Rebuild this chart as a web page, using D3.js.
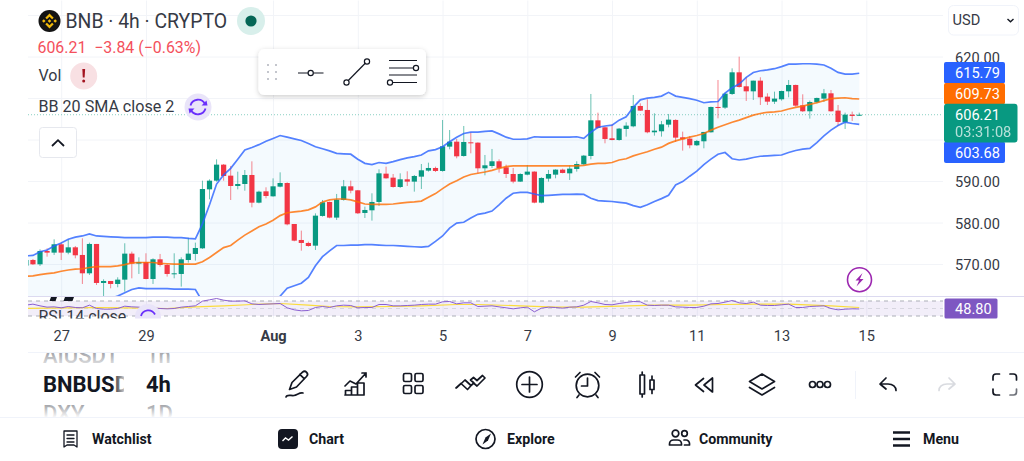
<!DOCTYPE html>
<html>
<head>
<meta charset="utf-8">
<script src="https://cdn.jsdelivr.net/npm/d3@7"></script>
<style>
  html, body { margin: 0; padding: 0; background: #fff; overflow: hidden; }
  svg { display: block; font-family: Roboto, sans-serif; }
  text { fill: #363a45; }
</style>
</head>
<body>
<div class="chart"></div>
<script>
const w = 1024;
const h = 461;

// 4h candles, first one is Jul 26 04:00
const opens = [569.85,571.21,570.17,573.38,572.98,574.99,572.98,574.26,572.42,568.00,575.07,565.67,566.15,565.43,566.47,572.74,570.33,570.73,566.63,571.37,570.01,567.84,567.84,571.21,572.66,574.02,588.23,590.32,594.18,591.53,589.04,589.52,591.69,585.02,587.75,586.55,588.88,589.76,579.88,576.03,575.31,574.66,
581.82,585.19,581.42,585.67,588.96,588.00,582.54,583.18,585.19,592.01,591.05,588.80,590.65,590.09,591.29,592.74,593.38,592.66,598.52,599.72,596.27,599.56,599.48,593.30,593.86,594.99,593.54,591.93,590.09,591.77,592.50,585.03,590.81,591.77,592.98,592.09,593.14,594.26,596.27,604.86,603.18,600.53,600.12,
602.78,603.42,608.32,607.36,601.98,602.22,603.82,604.95,600.77,600.45,598.85,599.81,601.98,608.08,607.92,611.21,616.43,613.06,611.85,614.42,610.57,609.36,609.93,611.85,613.38,608.48,607.04,609.20,610.09,611.37,607.20,604.39,606.23,605.99];
const closes = [571.21,570.17,573.38,572.98,574.99,572.98,574.26,572.34,568.00,575.07,565.67,566.15,565.43,566.47,572.74,570.33,570.73,566.63,571.37,570.01,567.84,568.00,571.37,572.74,574.10,588.31,590.32,594.18,591.45,589.04,589.52,591.69,585.02,587.67,586.63,588.96,589.76,579.80,575.87,575.31,574.58,581.89,
585.11,581.42,585.75,588.96,587.92,582.46,583.26,585.19,592.09,590.89,588.80,590.65,590.09,591.45,592.82,593.38,592.66,598.60,599.72,596.19,599.64,599.32,593.30,594.02,594.99,593.38,591.93,590.09,591.93,592.50,585.03,590.97,591.93,592.98,592.18,593.22,594.34,596.35,604.86,603.02,600.37,600.12,602.86,
603.58,608.32,607.20,601.98,602.38,603.90,605.03,600.69,600.29,598.85,599.89,602.06,608.08,607.84,611.29,616.43,612.90,611.85,614.42,610.41,609.36,610.09,611.93,613.38,608.40,607.04,609.28,610.25,611.37,607.04,604.47,606.23,605.91,606.21];
const highs = [571.61,571.45,573.78,574.02,576.19,575.39,576.19,574.58,576.43,575.39,575.07,566.55,566.15,567.04,575.23,573.22,571.85,572.82,571.61,572.66,570.25,572.82,571.85,576.59,575.39,590.32,590.64,595.46,594.34,593.86,592.49,592.89,594.98,587.91,588.72,590.88,592.33,589.92,579.88,578.28,575.63,582.45,
585.67,585.27,587.12,590.49,590.33,588.08,584.07,587.28,593.06,593.70,591.93,592.09,592.58,591.69,594.34,594.66,593.70,604.94,602.53,600.37,603.50,601.97,599.56,596.51,597.96,595.47,594.18,593.38,592.09,594.10,592.58,591.13,592.90,593.06,593.22,594.02,594.99,596.51,611.21,606.71,603.34,603.98,603.02,
604.39,610.97,608.96,609.93,606.55,604.71,606.39,605.11,602.14,601.09,600.13,602.06,608.16,614.58,611.53,617.39,620.20,615.23,614.42,615.23,611.37,611.77,612.01,614.58,613.46,611.13,609.61,610.33,612.42,612.17,608.56,606.71,606.96,606.71];
const lows = [569.61,570.01,569.77,572.01,572.42,571.21,572.58,571.61,565.43,567.60,565.19,562.38,564.39,564.63,563.58,566.79,567.84,566.55,565.43,569.61,567.20,566.79,564.79,570.57,571.05,573.86,585.83,590.08,590.32,585.66,588.23,587.91,583.90,584.86,586.07,586.47,588.72,579.56,575.71,573.46,574.42,573.62,
581.66,581.25,580.85,585.51,587.28,582.30,581.33,580.69,584.23,590.81,588.64,588.56,589.04,587.68,588.32,592.50,592.42,592.50,597.88,595.71,596.11,596.91,592.09,591.61,593.38,592.26,590.97,589.69,590.01,591.61,584.87,584.87,590.09,590.89,592.09,590.49,592.50,594.02,595.47,602.86,599.32,600.04,599.96,
600.93,603.18,607.12,601.74,601.17,600.93,603.18,599.65,597.56,598.12,598.68,598.12,601.90,605.35,607.60,610.97,612.74,609.53,609.77,608.56,608.56,608.80,609.61,610.41,608.16,606.88,605.27,608.96,609.28,606.96,603.50,602.78,604.71,605.91];

const bbUpper = [572.2,572.3,573.2,573.6,574.6,575.3,576.2,576.7,577.0,577.5,577.0,576.9,576.8,576.7,576.6,576.6,576.6,576.6,576.7,576.7,576.7,576.6,576.6,576.4,576.3,579.9,584.5,589.5,591.7,593.3,595.5,597.7,598.3,599.0,599.8,600.5,601.2,600.8,600.4,600.0,599.3,598.5,
598.0,597.5,596.9,596.8,596.7,595.5,594.5,594.2,594.7,594.5,594.9,595.4,595.8,596.1,596.5,597.5,597.8,598.5,599.7,600.8,601.7,602.0,602.0,602.2,602.3,601.6,600.8,600.3,600.3,600.4,600.9,600.8,600.8,600.8,600.8,600.8,600.9,600.5,602.0,603.2,603.5,603.7,604.9,
605.7,608.0,609.8,610.2,610.4,610.7,611.6,610.7,610.4,610.1,609.7,609.1,609.3,609.4,611.4,612.7,613.6,615.2,616.4,616.8,617.0,617.3,617.8,618.4,618.4,618.5,618.5,618.4,618.2,617.4,616.4,616.0,616.0,616.2];
const bbBasis = [567.3,567.4,567.7,567.9,568.1,568.5,568.8,569.0,569.1,569.4,569.6,569.6,569.6,569.8,570.1,570.5,570.6,570.6,570.6,570.4,570.3,570.2,570.2,570.2,570.2,570.8,571.8,573.0,574.2,574.7,576.0,577.2,578.2,579.2,579.9,580.8,581.9,582.6,582.8,583.0,583.3,584.0,
585.2,585.7,585.9,585.9,585.7,585.2,584.7,584.6,584.6,584.6,584.7,584.9,585.1,585.2,585.4,586.3,587.2,588.4,589.5,590.3,591.2,591.8,592.1,592.4,592.8,593.3,593.7,593.9,593.9,593.9,593.9,593.9,593.9,593.9,593.9,593.9,593.9,594.0,594.3,594.5,594.5,594.7,595.3,
595.6,596.3,596.8,597.3,597.9,598.4,599.3,599.9,600.4,600.8,601.2,601.7,602.5,603.2,603.8,604.4,604.9,605.5,606.1,606.5,606.8,606.9,607.1,607.6,608.0,608.3,608.7,609.1,609.6,610.1,610.2,610.3,610.1,610.0];
const bbLower = [559.2,559.2,559.3,559.5,559.6,559.8,560.0,560.1,560.3,560.4,560.8,561.4,562.0,562.5,563.3,564.1,564.5,564.3,564.3,564.3,564.3,564.2,564.2,564.2,564.1,561.2,555.9,550.7,547.1,544.7,544.3,545.5,547.9,550.3,553.5,558.0,562.5,564.4,565.0,565.6,567.0,569.8,
572.0,573.4,574.7,574.7,574.8,574.8,574.9,574.9,574.8,574.7,574.7,574.6,574.5,574.4,574.3,574.5,575.7,577.0,578.9,580.1,580.3,581.3,582.2,582.5,583.0,584.5,586.1,587.3,587.5,587.5,587.1,586.7,586.8,586.9,587.0,587.0,587.1,587.0,586.1,585.5,585.4,585.3,585.1,
584.9,584.3,583.9,584.5,585.3,586.0,586.8,589.3,590.1,591.4,592.6,594.2,595.5,596.7,597.1,595.6,595.3,595.5,595.9,596.2,596.3,596.4,596.5,597.1,597.6,597.9,598.1,599.5,601.1,602.5,603.6,604.4,604.1,603.9];

const rsi = [58.9,61.6,57.1,53.6,54.4,51.8,55.3,52.7,51.8,58.9,50,48.2,48.2,50,56.2,54.4,53.6,50,51.8,50,49.1,50,53.6,55.3,57.1,69.6,73.1,76.7,72.2,69.6,69.6,70.4,62.4,60.7,61.6,62.4,63.3,51.8,46.4,43.8,44.7,52.7,
55.3,52.7,57.1,58.9,58,51.8,52.7,52.7,60.7,60.7,57.1,57.1,58,58.9,60.7,61.6,61.6,67.8,68.7,62.4,65.1,65.1,55.3,56.2,57.1,54.4,51.8,49.1,51.8,53.6,41.1,50.9,53.6,52.7,50.9,53.6,54.4,58.9,68.7,65.1,60.7,59.8,63.3,
66,68.7,67.8,58.9,58,58.9,58.9,54.4,53.6,52.7,52.7,56.2,62.4,63.3,66.9,71.3,65.1,63.3,66.9,58.9,58,58,59.8,61.6,52.7,52.7,55.3,56.2,57.1,50,46.4,48.2,49.1,48.8];
const rsiMaIndex = [0,3,6,10,14,20,24,28,32,36,40,43,47,52,56,61,64,70,75,79,84,89,94,99,103,108,114,118];
const rsiMa = [50,50.9,51.8,52.7,51.8,50,54.4,57.1,60.7,63.3,58.9,55.3,54.4,55.3,57.1,60.7,60.7,57.1,53.6,53.6,56.2,58.9,58.9,60.7,61.6,61.6,57.1,52.7];

const gridTicks = [570,580,590,600,610,620,630];
const priceLabels = [570,580,590,620];
const dayTicks = ["2024-07-27","2024-07-29","2024-08-01","2024-08-03","2024-08-05","2024-08-07","2024-08-09","2024-08-11","2024-08-13","2024-08-15"];
const dayLabels = ["27","29","Aug","3","5","7","9","11","13","15"];
const priceTags = [
  {label: "615.79", color: "#2962ff"},
  {label: "609.73", color: "#ff6d00"},
  {label: "603.68", color: "#2962ff"}
];

const green = "#089981";
const red = "#f23645";

const svg = d3.select(".chart").append("svg")
  .attr("width", w)
  .attr("height", h);

const defs = svg.append("defs");
defs.append("clipPath").attr("id", "mainClip").append("rect")
  .attr("x", 28).attr("y", 0).attr("width", 915).attr("height", 296);
defs.append("clipPath").attr("id", "rsiClip").append("rect")
  .attr("x", 28).attr("y", 297).attr("width", 915).attr("height", 21.5);
defs.append("clipPath").attr("id", "paneClip").append("rect")
  .attr("x", 0).attr("y", 297).attr("width", w).attr("height", 21.5);
defs.append("clipPath").attr("id", "listClip").append("rect")
  .attr("x", 0).attr("y", 353).attr("width", 200).attr("height", 64);
defs.append("clipPath").attr("id", "symClip").append("rect")
  .attr("x", 0).attr("y", 353).attr("width", 124).attr("height", 64);
const shadow = defs.append("filter").attr("id", "shadow")
  .attr("x", "-10%").attr("y", "-20%").attr("width", "120%").attr("height", "150%");
shadow.append("feDropShadow").attr("dx", 0).attr("dy", 1.5).attr("stdDeviation", 2.5)
  .attr("flood-color", "#000").attr("flood-opacity", 0.2);
const fadeTop = defs.append("linearGradient").attr("id", "fadeTop").attr("x1", 0).attr("x2", 0).attr("y1", 0).attr("y2", 1);
fadeTop.append("stop").attr("offset", 0).attr("stop-color", "#fff").attr("stop-opacity", 0.45);
fadeTop.append("stop").attr("offset", 1).attr("stop-color", "#fff").attr("stop-opacity", 0.85);
const fadeBot = defs.append("linearGradient").attr("id", "fadeBot").attr("x1", 0).attr("x2", 0).attr("y1", 0).attr("y2", 1);
fadeBot.append("stop").attr("offset", 0).attr("stop-color", "#fff").attr("stop-opacity", 0.4);
fadeBot.append("stop").attr("offset", 1).attr("stop-color", "#fff").attr("stop-opacity", 0.95);
const fadeRight = defs.append("linearGradient").attr("id", "fadeRight");
fadeRight.append("stop").attr("offset", 0).attr("stop-color", "#fff").attr("stop-opacity", 0);
fadeRight.append("stop").attr("offset", 1).attr("stop-color", "#fff").attr("stop-opacity", 0.75);

const times = opens.map((d, i) => d3.utcHour.offset(new Date(Date.UTC(2024, 6, 26, 4)), i * 4));
const tickDates = dayTicks.map(d => new Date(d + "T00:00:00Z"));

const x = d3.scaleUtc()
  .domain([tickDates[0], tickDates[tickDates.length - 1]])
  .range([61.2, 866.3]);

const y = d3.scaleLinear()
  .domain([620, 570])
  .range([57.5, 265]);

const rsiY = d3.scaleLinear()
  .domain([70, 30])
  .range([301, 316]);

// grid + axis labels
const yAxis = d3.axisRight(y)
  .tickValues(gridTicks)
  .tickSizeInner(-915)
  .tickSizeOuter(0)
  .tickPadding(12)
  .tickFormat(d => priceLabels.includes(d) ? d.toFixed(2) : "");

const xAxis = d3.axisBottom(x)
  .tickValues(tickDates)
  .tickSizeInner(-318)
  .tickSizeOuter(0)
  .tickPadding(12.5)
  .tickFormat((d, i) => dayLabels[i]);

const gy = svg.append("g").attr("transform", "translate(943,0)").call(yAxis);
gy.select(".domain").remove();
gy.selectAll("line").attr("stroke", "#f2f4f8").attr("transform", "translate(0,-1)");
gy.selectAll("text").attr("font-size", 14.6).attr("font-family", "Roboto").style("fill", "#363a45");

const gx = svg.append("g").attr("transform", "translate(0,318.5)").call(xAxis);
gx.select(".domain").remove();
gx.selectAll("line").attr("stroke", "#f2f4f8");
gx.selectAll("text")
  .attr("font-size", 14.6)
  .attr("font-family", "Roboto")
  .attr("font-weight", (d, i) => dayLabels[i] === "Aug" ? 700 : 400)
  .style("fill", "#363a45");

// main pane
const main = svg.append("g").attr("clip-path", "url(#mainClip)");

const bandArea = d3.area()
  .x((d, i) => x(times[i]))
  .y0((d, i) => y(bbLower[i]))
  .y1(d => y(d));

main.append("path")
  .datum(bbUpper)
  .attr("d", bandArea)
  .attr("fill", "#2196f3")
  .attr("fill-opacity", 0.05);

// current price line
main.append("line")
  .attr("x1", 28).attr("x2", 943)
  .attr("y1", y(closes[closes.length - 1])).attr("y2", y(closes[closes.length - 1]))
  .attr("stroke", green)
  .attr("stroke-opacity", 0.6)
  .attr("stroke-width", 0.8)
  .attr("stroke-dasharray", "1,2");

const candles = main.selectAll(".candle")
  .data(opens)
  .enter().append("g")
  .attr("class", "candle");

candles.append("line")
  .attr("x1", (d, i) => x(times[i]))
  .attr("x2", (d, i) => x(times[i]))
  .attr("y1", (d, i) => y(highs[i]))
  .attr("y2", (d, i) => y(lows[i]))
  .attr("stroke", (d, i) => closes[i] >= d ? green : red)
  .attr("stroke-opacity", 0.8)
  .attr("stroke-width", 0.75);

candles.append("rect")
  .attr("x", (d, i) => x(times[i]) - 2.6)
  .attr("width", 5.2)
  .attr("y", (d, i) => y(Math.max(d, closes[i])))
  .attr("height", (d, i) => Math.max(1, Math.abs(y(d) - y(closes[i]))))
  .attr("fill", (d, i) => closes[i] >= d ? green : red);

const priceLine = d3.line()
  .x((d, i) => x(times[i]))
  .y(d => y(d));

[[bbUpper, "#2962ff"], [bbLower, "#2962ff"], [bbBasis, "#ff6d00"]].forEach(s => {
  main.append("path")
    .datum(s[0])
    .attr("d", priceLine)
    .attr("fill", "none")
    .attr("stroke", s[1])
    .attr("stroke-width", 1.7)
    .attr("stroke-opacity", 0.8);
});

// pane separator
svg.append("line")
  .attr("x1", 28).attr("x2", w).attr("y1", 296.5).attr("y2", 296.5)
  .attr("stroke", "#dcdaf0");

// rsi pane
const rsiPane = svg.append("g").attr("clip-path", "url(#rsiClip)");

rsiPane.append("rect")
  .attr("x", 28).attr("width", 915)
  .attr("y", rsiY(70)).attr("height", rsiY(30) - rsiY(70))
  .attr("fill", "#7e57c2").attr("fill-opacity", 0.1);

[[70, 0.9], [50, 0.35], [30, 0.9]].forEach(s => {
  rsiPane.append("line")
    .attr("x1", 28).attr("x2", 943)
    .attr("y1", rsiY(s[0])).attr("y2", rsiY(s[0]))
    .attr("stroke", "#a3a6af").attr("stroke-opacity", s[1])
    .attr("stroke-dasharray", "4,4");
});

rsiPane.append("path")
  .datum(rsiMa)
  .attr("d", d3.line().x((d, i) => x(times[rsiMaIndex[i]])).y(d => rsiY(d)))
  .attr("fill", "none")
  .attr("stroke", "#fbdc3c")
  .attr("stroke-width", 1.2);

rsiPane.append("path")
  .datum(rsi)
  .attr("d", d3.line().x((d, i) => x(times[i])).y(d => rsiY(d)))
  .attr("fill", "none")
  .attr("stroke", "#8a5fd0")
  .attr("stroke-width", 1);

// tv logo, cut by the pane
svg.append("path").attr("d", "M51 297h6l-1.5 4h-6z M65 297h9l-1.5 4h-9z").attr("fill", "#131722");

// price tags on the scale
const tagY = [73, 94, 152.5];
const tags = svg.selectAll(".tag")
  .data(priceTags)
  .enter().append("g")
  .attr("class", "tag");
tags.append("rect")
  .attr("x", 944).attr("width", 61)
  .attr("y", (d, i) => tagY[i] - 11).attr("height", 21.5)
  .attr("rx", 2)
  .attr("fill", d => d.color);
tags.append("text")
  .attr("x", 955).attr("y", (d, i) => tagY[i] + 5.2)
  .attr("font-size", 14.6)
  .style("fill", "#fff")
  .text(d => d.label);

svg.append("rect").attr("x", 944).attr("y", 103.7).attr("width", 73.5).attr("height", 38.8).attr("rx", 3).attr("fill", green);
svg.append("text").attr("x", 955).attr("y", 120).attr("font-size", 14.6).style("fill", "#fff").text("606.21");
svg.append("text").attr("x", 955).attr("y", 137).attr("font-size", 14.6).style("fill", "#fff").style("opacity", 0.7).text("03:31:08");

svg.append("rect").attr("x", 944.5).attr("y", 298.5).attr("width", 53).attr("height", 20).attr("rx", 1.5).attr("fill", "#7e57c2");
svg.append("text").attr("x", 955).attr("y", 314).attr("font-size", 14.6).style("fill", "#fff").text("48.80");

// legend
const logo = svg.append("g").attr("transform", "translate(49.5,21)");
logo.append("circle").attr("r", 11).attr("fill", "#131313");
logo.append("path").attr("d", "M0-7.5 4.2-3.3 2.6-1.7 0-4.3-2.6-1.7-4.2-3.3Z M-7.5 0-5.7-1.8-3.9 0-5.7 1.8Z M7.5 0 5.7-1.8 3.9 0 5.7 1.8Z M0-1.8 1.8 0 0 1.8-1.8 0Z M0 7.5 4.2 3.3 2.6 1.7 0 4.3-2.6 1.7-4.2 3.3Z").attr("fill", "#f0b90b");

svg.append("text").attr("x", 65.5).attr("y", 27.5).attr("font-size", 19.4).text("BNB · 4h · CRYPTO");
svg.append("circle").attr("cx", 251).attr("cy", 21).attr("r", 14).attr("fill", "#d8efeb");
svg.append("circle").attr("cx", 251).attr("cy", 21).attr("r", 5.6).attr("fill", "#056656");

svg.append("text").attr("x", 37.5).attr("y", 53).attr("font-size", 15.9).style("fill", "#f4505c").style("white-space", "pre").text("606.21  \u22123.84 (\u22120.63%)");

svg.append("text").attr("x", 38.5).attr("y", 81).attr("font-size", 16).text("Vol");
svg.append("circle").attr("cx", 83.7).attr("cy", 76).attr("r", 13.5).attr("fill", "#f8e0e3");
svg.append("path").attr("d", "M82.3 69h2.8l-.5 8.5h-1.8Z").attr("fill", "#a31420");
svg.append("circle").attr("cx", 83.7).attr("cy", 81).attr("r", 1.5).attr("fill", "#a31420");

svg.append("text").attr("x", 38.5).attr("y", 112).attr("font-size", 16.1).text("BB 20 SMA close 2");
svg.append("circle").attr("cx", 198).attr("cy", 107).attr("r", 13.5).attr("fill", "#e9e4f9");
svg.append("path").attr("d", "M190.5 105.5a7.8 7.8 0 0 1 14.5-1.5 M205.5 108.5a7.8 7.8 0 0 1-14.5 1.5")
  .attr("fill", "none").attr("stroke", "#6a2ffb").attr("stroke-width", 1.8);
svg.append("path").attr("d", "M201.5 105.5h6l-1-5z M194.5 108.5h-6l1 5z").attr("fill", "#6a2ffb");

svg.append("rect").attr("x", 39.5).attr("y", 127.5).attr("width", 37).attr("height", 30).attr("rx", 3)
  .attr("fill", "#fff").attr("stroke", "#e6e8ee");
svg.append("path").attr("d", "M52 146l6-5.8 6 5.8").attr("fill", "none").attr("stroke", "#131722").attr("stroke-width", 1.8);

// rsi legend, cut by the pane too
const rsiLegend = svg.append("g").attr("clip-path", "url(#paneClip)");
rsiLegend.append("text").attr("x", 38.5).attr("y", 322).attr("font-size", 16).text("RSI 14 close");
rsiLegend.append("circle").attr("cx", 148).attr("cy", 317).attr("r", 13).attr("fill", "#e9e4f9");
rsiLegend.append("path").attr("d", "M141 316a7.5 7.5 0 0 1 14-1.5").attr("fill", "none").attr("stroke", "#6a2ffb").attr("stroke-width", 1.8);

// floating line tools
svg.append("rect").attr("x", 258.5).attr("y", 49).attr("width", 167.5).attr("height", 46).attr("rx", 6)
  .attr("fill", "#fff").attr("filter", "url(#shadow)");
[[268, 65], [276, 65], [268, 72], [276, 72], [268, 79], [276, 79]].forEach(p => {
  svg.append("rect").attr("x", p[0] - 1).attr("y", p[1] - 1).attr("width", 2).attr("height", 2).attr("fill", "#c4c6cd");
});
const toolStroke = g => g.attr("fill", "none").attr("stroke", "#131722").attr("stroke-width", 1.2);
svg.append("path").attr("d", "M298 73H308 M313.4 73H323.5").call(toolStroke);
svg.append("circle").attr("cx", 310.7).attr("cy", 73).attr("r", 2.6).call(toolStroke);
svg.append("path").attr("d", "M348.3 80.5 365.5 63").call(toolStroke);
svg.append("circle").attr("cx", 346.5).attr("cy", 82.5).attr("r", 2.6).call(toolStroke);
svg.append("circle").attr("cx", 367).attr("cy", 61.5).attr("r", 2.6).call(toolStroke);
svg.append("path").attr("d", "M389 60.5H417 M389 68H413 M389 75H417 M393 82.5H417").call(toolStroke);
svg.append("circle").attr("cx", 416).attr("cy", 68).attr("r", 2.6).call(toolStroke);
svg.append("circle").attr("cx", 390).attr("cy", 82.5).attr("r", 2.6).call(toolStroke);

// flash badge
svg.append("circle").attr("cx", 859.5).attr("cy", 279.7).attr("r", 12).attr("fill", "#fff").attr("stroke", "#9c27b0").attr("stroke-width", 1.6);
svg.append("path").attr("d", "M862.5 273l-7 7.5h3.6l-2.6 6 7-7.5h-3.6Z").attr("fill", "#9c27b0");

// currency select
svg.append("rect").attr("x", 948.5).attr("y", 5.5).attr("width", 70).attr("height", 29.5).attr("rx", 5)
  .attr("fill", "#fff").attr("stroke", "#f0f3fa");
svg.append("text").attr("x", 952.5).attr("y", 24.5).attr("font-size", 14.6).text("USD");
svg.append("path").attr("d", "M1007.5 19l3 2.8 3-2.8").attr("fill", "none").attr("stroke", "#131722").attr("stroke-width", 1.4);

// separators
svg.append("line").attr("x1", 28).attr("x2", w).attr("y1", 352.5).attr("y2", 352.5).attr("stroke", "#f0f3fa");
svg.append("line").attr("x1", 0).attr("x2", w).attr("y1", 417.5).attr("y2", 417.5).attr("stroke", "#f0f3fa");

// watchlist wheel
const wheel = svg.append("g").attr("clip-path", "url(#listClip)");
const symWheel = wheel.append("g").attr("clip-path", "url(#symClip)");
symWheel.append("text").attr("x", 43).attr("y", 362.5).attr("font-size", 22).attr("font-weight", 500).style("fill", "#5c5f68").text("AIUSDT");
symWheel.append("text").attr("x", 43).attr("y", 392).attr("font-size", 22).attr("font-weight", 700).style("fill", "#131722").text("BNBUSDT");
symWheel.append("text").attr("x", 43).attr("y", 421).attr("font-size", 22).attr("font-weight", 500).style("fill", "#5c5f68").text("DXY");
wheel.append("text").attr("x", 146).attr("y", 362.5).attr("font-size", 22).attr("font-weight", 500).style("fill", "#5c5f68").text("1h");
wheel.append("text").attr("x", 146).attr("y", 392).attr("font-size", 22).attr("font-weight", 700).style("fill", "#131722").text("4h");
wheel.append("text").attr("x", 146).attr("y", 421).attr("font-size", 22).attr("font-weight", 500).style("fill", "#5c5f68").text("1D");
svg.append("rect").attr("x", 28).attr("y", 353).attr("width", 170).attr("height", 13).attr("fill", "url(#fadeTop)");
svg.append("rect").attr("x", 28).attr("y", 404).attr("width", 170).attr("height", 13).attr("fill", "url(#fadeBot)");
svg.append("rect").attr("x", 112).attr("y", 376).attr("width", 12).attr("height", 18).attr("fill", "url(#fadeRight)");

// toolbar icons
const ic = (sel, col) => sel.attr("fill", "none").attr("stroke", col || "#131722").attr("stroke-width", 1.7).attr("stroke-linejoin", "round").attr("stroke-linecap", "round");
svg.append("path").attr("d", "M292 382.5l-2.5 7 7-2.5 10-10.5a2.8 2.8 0 0 0-4-4.3Z M299.8 374.3l4.6 4.6 M286 397c1-3 5-1 8-1.5s6-3.5 9-2.5").call(ic);
svg.append("path").attr("d", "M345 386l5-5 6 3 10-11 M366 377v-4h-4 M345.5 395v-4.500h6v4.500Z M351.500 395v-8h6v8Z M357.500 395v-12h6.500v12Z M345 395h19").call(ic);
svg.append("path").attr("d", "M403.500 375a1.500 1.500 0 0 1 1.500-1.500h5a1.500 1.500 0 0 1 1.500 1.500v5a1.500 1.500 0 0 1-1.500 1.500h-5a1.500 1.500 0 0 1-1.500-1.500Z M415 375a1.500 1.500 0 0 1 1.500-1.500h5a1.500 1.500 0 0 1 1.500 1.500v5a1.500 1.500 0 0 1-1.500 1.500h-5a1.500 1.500 0 0 1-1.500-1.500Z M403.500 387a1.500 1.500 0 0 1 1.500-1.500h5a1.500 1.500 0 0 1 1.500 1.500v5a1.500 1.500 0 0 1-1.500 1.500h-5a1.500 1.500 0 0 1-1.500-1.500Z M415 387a1.500 1.500 0 0 1 1.500-1.500h5a1.500 1.500 0 0 1 1.500 1.500v5a1.500 1.500 0 0 1-1.500 1.500h-5a1.500 1.500 0 0 1-1.500-1.500Z").call(ic);
svg.append("path").attr("d", "M457.500 387l7.500-7 6 5.500 3-2.500 -3.500-3 3-2.500 3.500 3 5.500-5 2.500 2.500 -8 8 -3.500-3 -6 6.500 -6.500-6 -5 4.500Z").call(ic);
svg.append("circle").attr("cx", 529.5).attr("cy", 384.5).attr("r", 12.8).call(ic);
svg.append("path").attr("d", "M529.500 377v15 M522 384.500h15").call(ic);
svg.append("circle").attr("cx", 587.5).attr("cy", 385.5).attr("r", 11.3).call(ic);
svg.append("path").attr("d", "M587.500 378v8h-6 M575.500 377l4.500-4.500 M599.500 377l-4.500-4.500 M579 395l-2 2.500 M596 395l2 2.500").call(ic);
svg.append("path").attr("d", "M640 375h4.500v19h-4.500Z M642.200 372v3 M642.200 394v3 M650 380h4v9.500h-4Z M652 376v4 M652 389.500v4").call(ic);
svg.append("path").attr("d", "M703.500 378.500l-8 6.500 8 6.500 M712.500 378v14l-8.500-7Z").call(ic);
svg.append("path").attr("d", "M762 374l12.500 7.500-12.500 7.500-12.500-7.500Z M749.500 387.500l12.500 7.500 12.500-7.500").call(ic);
[812.5, 820, 827.500].forEach(c => svg.append("circle").attr("cx", c).attr("cy", 384.5).attr("r", 3).call(ic));
svg.append("line").attr("x1", 855.5).attr("x2", 855.5).attr("y1", 371).attr("y2", 399).attr("stroke", "#f0f3fa");
svg.append("path").attr("d", "M881 384h7c5 0 8 3 8 6.500 M886 378l-6 6 6 5").call(ic);
svg.append("path").attr("d", "M954 384h-7c-5 0-8 3-8 6.500 M949 378l6 6-6 5").call(ic, "#d9dbe0");
svg.append("path").attr("d", "M993 380v-3a3 3 0 0 1 3-3h3.500 M1016.500 380v-3a3 3 0 0 0-3-3h-3.500 M993 389v3a3 3 0 0 0 3 3h3.500").call(ic);
svg.append("path").attr("d", "M1016.500 389v3a3 3 0 0 1-3 3h-3.500").call(ic, "#6f727a");

// bottom nav
const navs = [["Watchlist", 92], ["Chart", 309], ["Explore", 507], ["Community", 699], ["Menu", 923]];
navs.forEach(n => {
  svg.append("text").attr("x", n[1]).attr("y", 444).attr("font-size", 14.2).attr("font-weight", 700).style("fill", "#131722").text(n[0]);
});
svg.append("path").attr("d", "M64 431h13v16l-3-2h-7l-3 2Z M67 435h7 M67 438.500h7 M67 442h7").call(ic).attr("stroke-width", 1.3);
svg.append("rect").attr("x", 278).attr("y", 429).attr("width", 20).attr("height", 20).attr("rx", 4).attr("fill", "#131722");
svg.append("path").attr("d", "M282.500 441l3-3 3 2 4-3.500").attr("fill", "none").attr("stroke", "#fff").attr("stroke-width", 1.4);
svg.append("circle").attr("cx", 485.5).attr("cy", 439).attr("r", 9.5).call(ic);
svg.append("path").attr("d", "M491 433.500l-3 7-5.500 4 3-7Z").attr("fill", "#131722");
svg.append("circle").attr("cx", 675.5).attr("cy", 433.5).attr("r", 3.3).call(ic);
svg.append("circle").attr("cx", 684.5).attr("cy", 433.5).attr("r", 2.8).call(ic);
svg.append("path").attr("d", "M669.500 444a4 4 0 0 1 4-4h4a4 4 0 0 1 4 4v1h-12Z M684 440h2a3.500 3.500 0 0 1 3.500 3.500v1.500h-5").call(ic);
svg.append("path").attr("d", "M893 432.500h17 M893 439h17 M893 445.500h17").attr("stroke", "#131722").attr("stroke-width", 2.4);
</script>
</body>
</html>
